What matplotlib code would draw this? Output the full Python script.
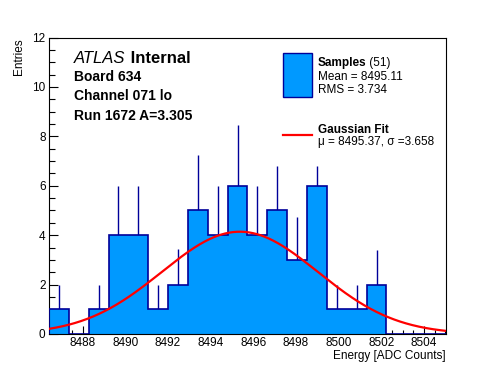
import numpy as np
import matplotlib.pyplot as plt
from matplotlib.patches import Rectangle
from matplotlib.lines import Line2D
from matplotlib.ticker import MultipleLocator

plt.rcParams['font.family'] = ['Liberation Sans', 'DejaVu Sans']

# histogram range and bin contents (20 bins)
x_lo, x_hi = 8486.43, 8505.03
counts = [1, 0, 1, 4, 4, 1, 2, 5, 4, 6, 4, 5, 3, 6, 1, 1, 2, 0, 0, 0]
err_top = [2, 0, 2, 6, 6, 2, 3.44, 7.26, 6, 8.47, 6, 6.78, 4.74, 6.78, 2, 2, 3.41, 0, 0, 0]

# gaussian fit parameters
mu, sigma, amp = 8495.37, 3.658, 4.14

W, H = 496, 372
fill_col = '#0099ff'
edge_col = '#000099'

fig = plt.figure(figsize=(W / 100, H / 100), dpi=100)
ax = fig.add_axes([49 / W, 1 - 334 / H, 397 / W, 296.5 / H])

edges = np.linspace(x_lo, x_hi, len(counts) + 1)
centers = 0.5 * (edges[:-1] + edges[1:])
counts = np.array(counts)
err_top = np.array(err_top)
nz = counts > 0

ax.vlines(centers[nz], counts[nz], err_top[nz], color=edge_col, lw=1, zorder=1)
ax.stairs(counts, edges, fill=True, color=fill_col, zorder=2)
ax.stairs(counts, edges, color=edge_col, lw=1.2, zorder=3)

xf = np.linspace(x_lo, x_hi, 400)
ax.plot(xf, amp * np.exp(-0.5 * ((xf - mu) / sigma) ** 2), color='red', lw=1.6, zorder=4)

ax.set_xlim(x_lo, x_hi)
ax.set_ylim(0, 12)
ax.xaxis.set_major_locator(MultipleLocator(2))
ax.xaxis.set_minor_locator(MultipleLocator(0.5))
ax.yaxis.set_major_locator(MultipleLocator(2))
ax.yaxis.set_minor_locator(MultipleLocator(0.5))
ax.ticklabel_format(useOffset=False)
ax.tick_params(which='both', direction='in', top=False, right=False, labelsize=8.5, width=0.8)
ax.tick_params(axis='x', which='major', length=5.8, pad=2.5)
ax.tick_params(axis='x', which='minor', length=2.9)
ax.tick_params(axis='y', which='major', length=6.5, pad=2.5)
ax.tick_params(axis='y', which='minor', length=4)
for s in ax.spines.values():
    s.set_linewidth(0.8)

fig.text(446 / W, 1 - 359.5 / H, 'Energy [ADC Counts]', ha='right', va='baseline', fontsize=8.5)
fig.text(19 / W, 1 - 38 / H, 'Entries', rotation=90, ha='center', va='top', fontsize=8.5)

# ATLAS label block
t = fig.text(74 / W, 1 - 62.7 / H, 'ATLAS', style='italic', fontsize=12, va='baseline')
ax.annotate(' Internal', xy=(1, 0), xycoords=t, ha='left', va='bottom',
            fontsize=12, fontweight='bold')
fig.text(74 / W, 1 - 81 / H, 'Board 634', fontsize=10, fontweight='bold', va='baseline')
fig.text(74 / W, 1 - 100 / H, 'Channel 071 lo', fontsize=10, fontweight='bold', va='baseline')
fig.text(74 / W, 1 - 119.5 / H, 'Run 1672 A=3.305', fontsize=10, fontweight='bold', va='baseline')

# legend
fig.add_artist(Rectangle((283.3 / W, 1 - 96.7 / H), 28.4 / W, 43.4 / H,
                         facecolor=fill_col, edgecolor=edge_col, lw=1))
s = fig.text(317.7 / W, 1 - 66 / H, 'Samples', fontsize=8.5, fontweight='bold', va='baseline')
ax.annotate(' (51)', xy=(1, 0), xycoords=s, ha='left', va='bottom', fontsize=8.5)
fig.text(317.7 / W, 1 - 79.5 / H, 'Mean = 8495.11', fontsize=8.5, va='baseline')
fig.text(317.7 / W, 1 - 93.3 / H, 'RMS = 3.734', fontsize=8.5, va='baseline')

fig.add_artist(Line2D([283.3 / W, 311.7 / W], [1 - 135 / H, 1 - 135 / H], color='red', lw=1.6))
fig.text(317.7 / W, 1 - 132.7 / H, 'Gaussian Fit', fontsize=8.5, fontweight='bold', va='baseline')
fig.text(317.7 / W, 1 - 145 / H, '\u03bc = 8495.37, \u03c3 =3.658', fontsize=8.5, va='baseline')

fig.savefig('out.png', dpi=100)
